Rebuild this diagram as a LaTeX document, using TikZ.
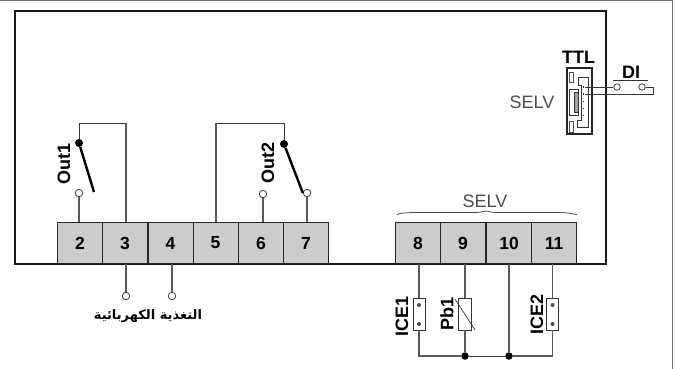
\documentclass[tikz,border=0pt]{standalone}
\usepackage{fontspec}
\setmainfont{Liberation Sans}
\newfontfamily\arabicfont[Script=Arabic]{DejaVu Sans}
\TeXXeTstate=1
\tikzset{
	terminal/.style={draw=black!85, fill=black!20, line width=0.9pt, minimum width=45pt, minimum height=41pt, inner sep=0pt, font=\bfseries\fontsize{17.5}{17.5}\selectfont},
	wire/.style={draw=black!65, line width=1.2pt},
	thinwire/.style={draw=black!80, line width=0.9pt},
	contact/.style={circle, draw=black!75, fill=white, line width=0.8pt, minimum size=7.5pt, inner sep=0pt},
	dotcontact/.style={circle, fill=black, minimum size=8pt, inner sep=0pt},
	smalldot/.style={circle, fill=black!70, minimum size=4pt, inner sep=0pt},
	boldlabel/.style={font=\bfseries\fontsize{18}{18}\selectfont, inner sep=0pt},
	greylabel/.style={font=\fontsize{18}{18}\selectfont, text=black!70, inner sep=0pt},
	probe/.style={draw=black!80, fill=white, line width=0.8pt, minimum width=12pt, minimum height=32pt, inner sep=0pt},
}
\begin{document}
\begin{tikzpicture}[x=1pt,y=-1pt]
	\useasboundingbox (0,0) rectangle (675,369);
	% outer frame
	\draw[black!55, line width=1.5pt] (0,0.5) -- (672.5,0.5) -- (672.5,369);
	% housing
	\draw[black!90, line width=2.2pt] (15,264) -- (15,11) -- (606,11) -- (606,264) -- cycle;

	% terminals
	\foreach \n/\x in {2/80,3/125,4/170.5,5/215.5,6/261,7/306,8/418,9/463,10/509,11/554}
		\node[terminal] (t\n) at (\x,243) {\n};

	% Out1
	\node[contact] (p2) at (79,193) {};
	\node[dotcontact] (c1) at (79,143) {};
	\coordinate (b1) at (126,123);
	\coordinate (e1) at (94,192);
	\draw[wire] (p2) -- (t2.north -| p2);
	\draw[thinwire] (c1) -- (79,123) -- (b1);
	\draw[wire] (b1) -- (t3.north -| b1);
	\draw[line width=2.4pt] (c1) -- (e1);
	\node[boldlabel, rotate=90] (out1) at (64,164) {Out1};

	% Out2
	\node[contact] (p6) at (263,194) {};
	\node[contact] (p7) at (307,193) {};
	\node[dotcontact] (c2) at (284,144) {};
	\coordinate (b2) at (216,123);
	\draw[wire] (p6) -- (t6.north -| p6);
	\draw[wire] (p7) -- (t7.north -| p7);
	\draw[thinwire] (c2) -- (284,123) -- (b2);
	\draw[wire] (b2) -- (t5.north -| b2);
	\draw[line width=2.4pt] (c2) -- (p7.west);
	\node[boldlabel, rotate=90] (out2) at (268,163) {Out2};

	% supply
	\node[contact] (s3) at (126,296) {};
	\node[contact] (s4) at (172,296) {};
	\draw[wire] (t3.south -| s3) -- (s3);
	\draw[wire] (t4.south -| s4) -- (s4);
	\node[inner sep=0pt, font=\bfseries\fontsize{13}{13}\selectfont] (supply) at (148,316) {\arabicfont\beginR التغذية الكهربائية\endR};

	% SELV brace
	\node[greylabel] (selv1) at (485,201) {SELV};
	\draw[black!70, line width=0.8pt] (397,214.5) .. controls (402,212) and (420,212.5) .. (440,212.5) -- (476,212.5) .. controls (482,212.5) and (484,211) .. (486,211) .. controls (488,211) and (490,212.5) .. (496,212.5) -- (560,212.5) .. controls (568,212.5) and (572,214) .. (577,214.5);

	% probes
	\node[probe] (ice1) at (419,314) {};
	\node[probe, minimum width=13pt] (pb1) at (465,314) {};
	\node[probe] (ice2) at (552.5,314) {};
	\node[smalldot] (i1a) at (419,305) {};
	\node[smalldot] (i1b) at (419,324) {};
	\node[smalldot] (i2a) at (552.5,305) {};
	\node[smalldot] (i2b) at (552.5,324) {};
	\draw[black!80, line width=0.7pt] (455,299) -- (475,330);
	\node[dotcontact, minimum size=7.5pt] (j1) at (465,356) {};
	\node[dotcontact, minimum size=7.5pt] (j2) at (509,356) {};
	\draw[wire] (t8.south -| ice1) -- (ice1);
	\draw[wire] (t9.south -| pb1) -- (pb1);
	\draw[wire] (t11.south -| ice2) -- (ice2);
	\draw[wire] (t10.south -| j2) -- (j2);
	\draw[wire] (ice1.south) |- (j1);
	\draw[wire] (pb1) -- (j1);
	\draw[wire] (ice2.south) |- (j2);
	\draw[thinwire] (j1) -- (j2);
	\node[boldlabel, rotate=90] (lice1) at (402,316) {ICE1};
	\node[boldlabel, rotate=90] (lpb1) at (447,314) {Pb1};
	\node[boldlabel, rotate=90] (lice2) at (537,314) {ICE2};

	% TTL connector
	\node[draw=black!85, line width=2pt, minimum width=25pt, minimum height=65pt, inner sep=0pt] (ttl) at (579.5,101) {};
	\draw[black!80, line width=0.8pt] (578,77) -- (588,77) -- (588,127) -- (577,127) -- (577,120) -- (581,120) -- (581,85) -- (578,85) -- cycle;
	\draw[black!80, line width=0.8pt] (569,89) rectangle (578,115);
	\draw[black!80, fill=black!35, line width=0.8pt] (574,92) rectangle (578,112);
	\draw[black!70, line width=0.8pt] (569.5,72) rectangle (573,82);
	\draw[black!70, line width=0.8pt] (569.5,121) rectangle (573,132);
	\draw[black!80, line width=1.2pt, dash pattern=on 1.5pt off 5.5pt] (583.5,86.5) -- (583.5,118);
	\node[boldlabel] (ttllabel) at (578.5,57) {TTL};
	\node[greylabel] (selv2) at (532,102) {SELV};

	% DI
	\node[contact, minimum size=6.5pt] (d1) at (617,87) {};
	\node[contact, minimum size=6.5pt] (d2) at (642,87) {};
	\coordinate (d3) at (653,87);
	\draw[thinwire] (585,87) -- (d1);
	\draw[thinwire] (d2) -- (d3) -- (653,94) -- (585,94);
	\draw[thinwire] (613,80.5) -- (648,80.5);
	\node[boldlabel] (dilabel) at (631,72) {DI};
\end{tikzpicture}
\end{document}
